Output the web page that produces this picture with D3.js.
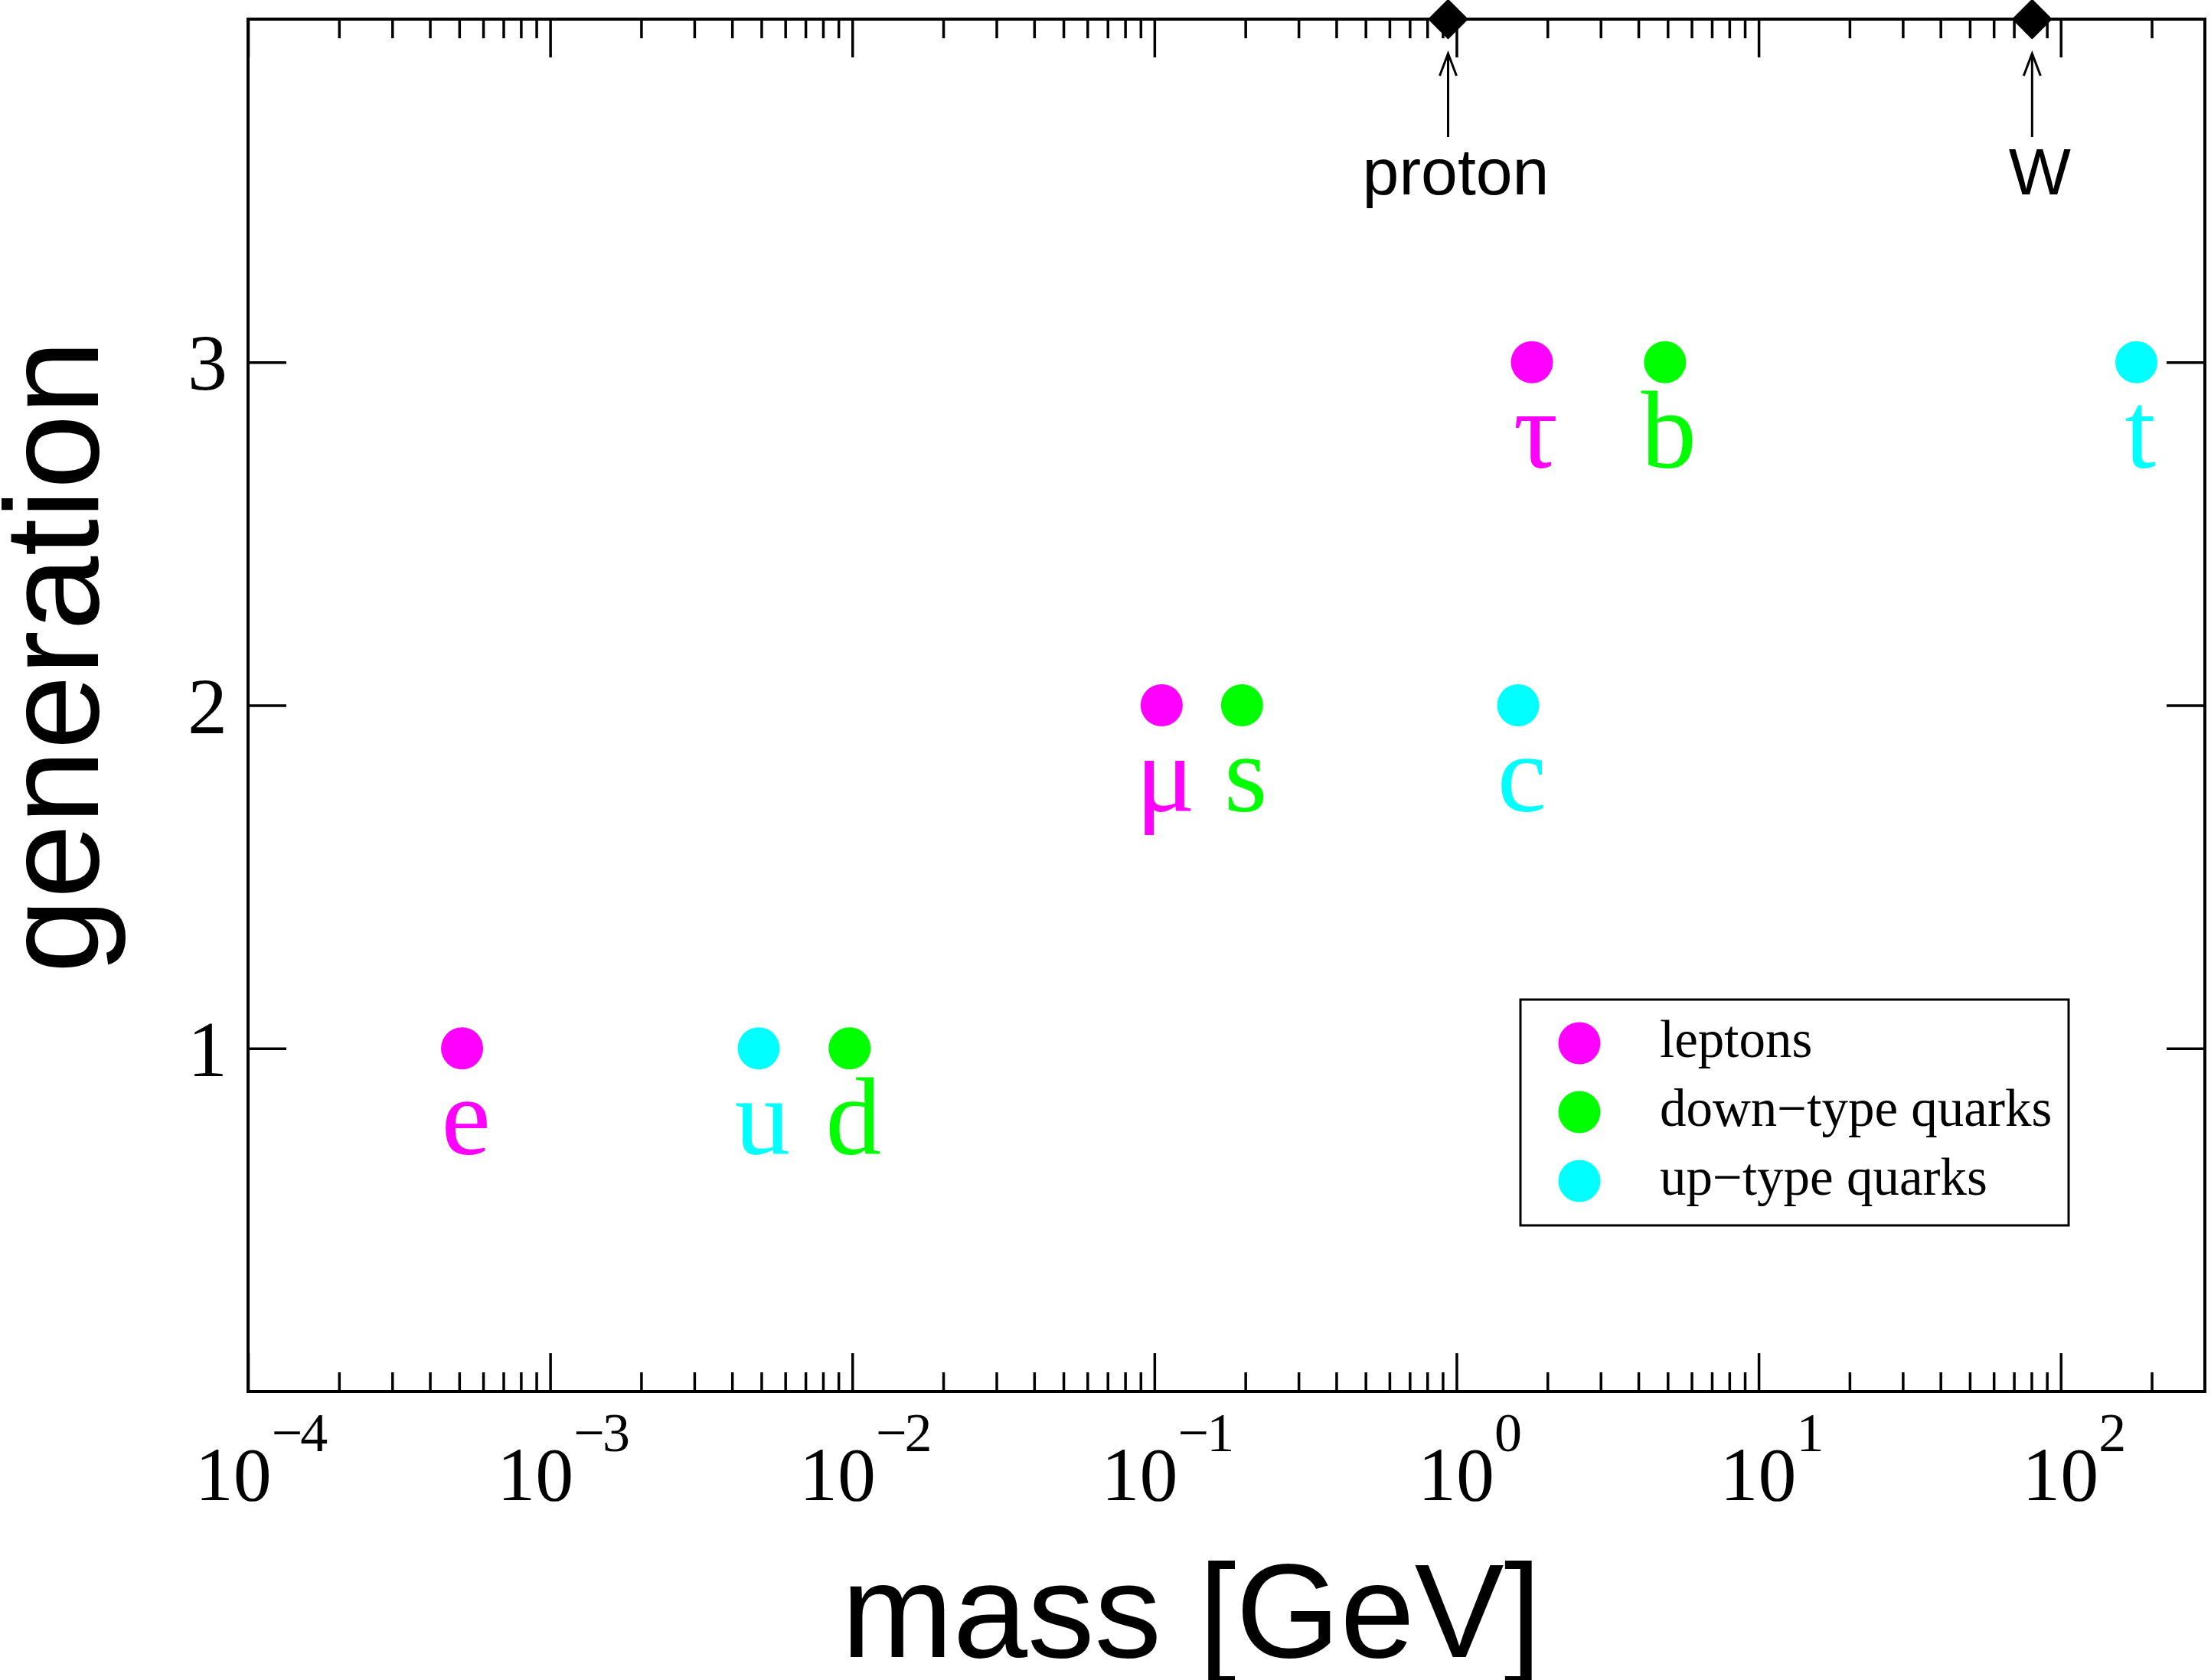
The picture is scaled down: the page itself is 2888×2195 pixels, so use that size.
<!DOCTYPE html>
<html>
<head>
<meta charset="utf-8">
<script src="https://cdn.jsdelivr.net/npm/d3@7"></script>
<style>
  body { margin: 0; background: #fff; }
  svg { display: block; }
  .serif { font-family: "Liberation Serif", "Times New Roman", serif; }
  .sans { font-family: "Liberation Sans", Arial, sans-serif; }
</style>
</head>
<body>
<div id="chart"></div>
<script>
"use strict";

// fermions: symbol, mass in GeV, generation, family
const particles = ["e", "u", "d", "μ", "s", "c", "τ", "b", "t"];
const masses = [0.000511, 0.0049, 0.0098, 0.1057, 0.195, 1.6, 1.777, 4.9, 178];
const generations = [1, 1, 1, 2, 2, 2, 3, 3, 3];
const families = ["lepton", "up", "down", "lepton", "down", "up", "lepton", "down", "up"];

// reference masses marked on the top axis
const refNames = ["proton", "W"];
const refMasses = [0.938, 80.4];

// legend
const familyKeys = ["lepton", "down", "up"];
const familyLabels = ["leptons", "down\u2212type quarks", "up\u2212type quarks"];
const familyColors = ["#ff00ff", "#00ff00", "#00ffff"];

// ticks
const xExponents = [-4, -3, -2, -1, 0, 1, 2];
const yTicks = [1, 2, 3];

let dimensions = { width: 2888, height: 2195 };
let margin = { top: 25, right: 8, bottom: 377, left: 324 };
let width = dimensions.width - margin.left - margin.right,
    height = dimensions.height - margin.top - margin.bottom;

let svg = d3.select("#chart").append("svg")
    .attr("width", dimensions.width)
    .attr("height", dimensions.height);

let plot = svg.append("g")
    .attr("transform", "translate(" + margin.left + "," + margin.top + ")");

var x = d3.scaleLog()
    .domain([1e-4, 300])
    .range([0, width]);

var y = d3.scaleLinear()
    .domain([0, 4])
    .range([height, 0]);

let color = d3.scaleOrdinal().domain(familyKeys).range(familyColors);

// minor ticks: 2..9 in every decade inside the domain
let minorTicks = [];
xExponents.forEach(e => {
    for (let k = 2; k <= 9; k++) {
        let v = k * Math.pow(10, e);
        if (v < x.domain()[1]) minorTicks.push(v);
    }
});
let majorTicks = xExponents.map(e => Math.pow(10, e));

function styleAxis(g) {
    g.select(".domain").remove();
    g.selectAll(".tick line").attr("stroke", "#000").attr("stroke-width", 3.5);
    g.selectAll(".tick text").remove();
}

// x axes (bottom and top), ticks pointing inward
plot.append("g").attr("transform", "translate(0," + height + ")")
    .call(d3.axisBottom(x).tickValues(majorTicks).tickSize(-50)).call(styleAxis);
plot.append("g").attr("transform", "translate(0," + height + ")")
    .call(d3.axisBottom(x).tickValues(minorTicks).tickSize(-25)).call(styleAxis);
plot.append("g")
    .call(d3.axisTop(x).tickValues(majorTicks).tickSize(-50)).call(styleAxis);
plot.append("g")
    .call(d3.axisTop(x).tickValues(minorTicks).tickSize(-25)).call(styleAxis);

// y axes (left and right)
plot.append("g")
    .call(d3.axisLeft(y).tickValues(yTicks).tickSize(-50)).call(styleAxis);
plot.append("g").attr("transform", "translate(" + width + ",0)")
    .call(d3.axisRight(y).tickValues(yTicks).tickSize(-50)).call(styleAxis);

// frame
plot.append("rect")
    .attr("width", width).attr("height", height)
    .attr("fill", "none").attr("stroke", "#000").attr("stroke-width", 4);

// x tick labels: 10 with superscript exponent
let xLabels = plot.append("g").attr("class", "serif");
xExponents.forEach(e => {
    let t = xLabels.append("text")
        .attr("x", x(Math.pow(10, e)) + 16)
        .attr("y", height + 142)
        .attr("text-anchor", "middle")
        .attr("font-size", 100);
    t.append("tspan").text("10");
    t.append("tspan").attr("dy", -64).attr("font-size", 72)
        .attr("letter-spacing", -3)
        .text(String(e).replace("-", "\u2212"));
});

// y tick labels
plot.append("g").attr("class", "serif")
    .selectAll("text")
    .data(yTicks)
    .enter()
    .append("text")
    .attr("x", -27)
    .attr("y", d => y(d) + 36)
    .attr("text-anchor", "end")
    .attr("font-size", 104)
    .text(d => d);

// axis titles
svg.append("text").attr("class", "sans")
    .attr("x", 1556).attr("y", 2165)
    .attr("text-anchor", "middle")
    .attr("font-size", 175)
    .text("mass [GeV]");

svg.append("text").attr("class", "sans")
    .attr("transform", "translate(128,858) rotate(-90)")
    .attr("text-anchor", "middle")
    .attr("font-size", 175)
    .text("generation");

// fermion points
let fermions = particles.map((p, i) => ({
    name: p, mass: masses[i], gen: generations[i], family: families[i]
}));

plot.append("g")
    .selectAll("circle")
    .data(fermions)
    .enter()
    .append("circle")
    .attr("cx", d => x(d.mass))
    .attr("cy", d => y(d.gen))
    .attr("r", 27.5)
    .style("fill", d => color(d.family));

plot.append("g").attr("class", "serif")
    .selectAll("text")
    .data(fermions)
    .enter()
    .append("text")
    .attr("x", d => x(d.mass) + 5)
    .attr("y", d => y(d.gen) + 138)
    .attr("text-anchor", "middle")
    .attr("font-size", 145)
    .style("fill", d => color(d.family))
    .text(d => d.name);

// reference masses on top axis: diamond, arrow, label
let refs = refNames.map((n, i) => ({ name: n, mass: refMasses[i] }));

plot.append("g")
    .selectAll("path")
    .data(refs)
    .enter()
    .append("path")
    .attr("d", d3.symbol(d3.symbolSquare, 1400))
    .attr("transform", d => "translate(" + x(d.mass) + ",0) rotate(45)")
    .style("fill", "#000");

let arrows = plot.append("g")
    .attr("stroke", "#000").attr("stroke-width", 3).attr("fill", "none");
refs.forEach(d => {
    let cx = x(d.mass);
    arrows.append("line")
        .attr("x1", cx).attr("x2", cx)
        .attr("y1", 45).attr("y2", 154);
    arrows.append("polyline")
        .attr("points", [[cx - 11, 74], [cx, 45], [cx + 11, 74]].join(" "));
});

plot.append("g").attr("class", "sans")
    .selectAll("text")
    .data(refs)
    .enter()
    .append("text")
    .attr("x", d => x(d.mass) + 10)
    .attr("y", 229)
    .attr("text-anchor", "middle")
    .attr("font-size", 86)
    .text(d => d.name);

// legend
let legend = svg.append("g").attr("transform", "translate(1986,1306)");
legend.append("rect")
    .attr("width", 716).attr("height", 295)
    .attr("fill", "#fff").attr("stroke", "#000").attr("stroke-width", 3);

let items = legend.selectAll(".item")
    .data(familyKeys)
    .enter()
    .append("g")
    .attr("class", "item")
    .attr("transform", (d, i) => "translate(0," + (57 + i * 90) + ")");
items.append("circle")
    .attr("cx", 77).attr("r", 27.5)
    .style("fill", d => color(d));
items.append("text").attr("class", "serif")
    .attr("x", 182).attr("y", 18)
    .attr("font-size", 69)
    .text((d, i) => familyLabels[i]);
</script>
</body>
</html>
